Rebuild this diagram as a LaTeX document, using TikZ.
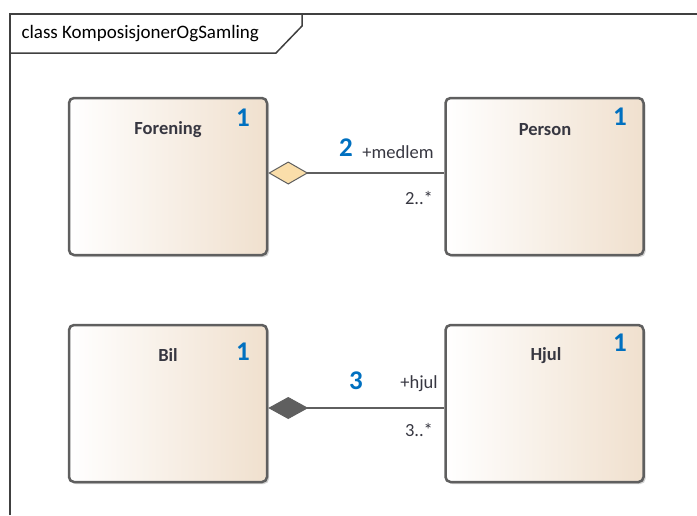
\documentclass[tikz,border=0pt]{standalone}
\usepackage{fontspec}
\setmainfont{Carlito}
\usetikzlibrary{arrows.meta,shadows,positioning,calc}
\definecolor{boxtan}{RGB}{240,224,206}
\definecolor{boxline}{RGB}{95,95,95}
\definecolor{aggfill}{RGB}{250,222,170}
\definecolor{umlblue}{RGB}{0,112,192}
\definecolor{umltext}{RGB}{55,55,65}
\begin{document}
\begin{tikzpicture}[x=1pt, y=-1pt,
  classbox/.style={rectangle, rounded corners=5pt, draw=boxline, line width=2.5pt,
    left color=white, right color=boxtan, minimum width=198pt, minimum height=157pt,
    inner sep=0pt, drop shadow={shadow xshift=2pt, shadow yshift=-2pt, fill=black!35}},
  classname/.style={font=\fontsize{18.5}{22}\selectfont\bfseries, text=umltext},
  tag/.style={font=\fontsize{27}{30}\selectfont\bfseries, text=umlblue},
  role/.style={font=\fontsize{18.5}{22}\selectfont, text=umltext},
  link/.style={draw=boxline, line width=1.3pt}]
  \useasboundingbox (0,0) rectangle (697,515);
  % frame
  \draw[line width=2pt, draw=black!75] (10,515) -- (10,14) -- (697,14);
  \draw[line width=1.5pt, draw=black!75] (10,53) -- (276,53) -- (302,26) -- (302,14);
  \node (title) at (18,34) [anchor=west, font=\fontsize{19}{22}\selectfont, text=black] {class KomposisjonerOgSamling};
  % classes
  \node (forening) at (168,176.5) [classbox] {};
  \node (person) at (544.5,176.5) [classbox] {};
  \node (bil) at (168,403.5) [classbox] {};
  \node (hjul) at (544.5,403.5) [classbox] {};
  \node (foreningname) at (168,130) [classname] {Forening};
  \node (personname) at (545,130) [classname] {Person};
  \node (bilname) at (168,355) [classname] {Bil};
  \node (hjulname) at (546,356) [classname] {Hjul};
  \node (foreningtag) at (243,118) [tag] {1};
  \node (persontag) at (620,117) [tag] {1};
  \node (biltag) at (243,352) [tag] {1};
  \node (hjultag) at (620,343) [tag] {1};
  % aggregation
  \draw[link, {Diamond[length=40pt, width=23pt, fill=aggfill, line width=1pt]}-]
    ([yshift=3.5pt]forening.east) -- ([yshift=3.5pt]person.west);
  \node (aggtag) at (346,148) [tag] {2};
  \node (aggrole) at (398,152) [role] {+medlem};
  \node (aggmult) at (419,198) [role] {2..*};
  % composition
  \draw[link, {Diamond[length=40pt, width=22pt, fill=boxline, line width=1pt]}-]
    ([yshift=-4.5pt]bil.east) -- ([yshift=-4.5pt]hjul.west);
  \node (comptag) at (356,381) [tag] {3};
  \node (comprole) at (419,384) [role] {+hjul};
  \node (compmult) at (419,430) [role] {3..*};
\end{tikzpicture}
\end{document}
